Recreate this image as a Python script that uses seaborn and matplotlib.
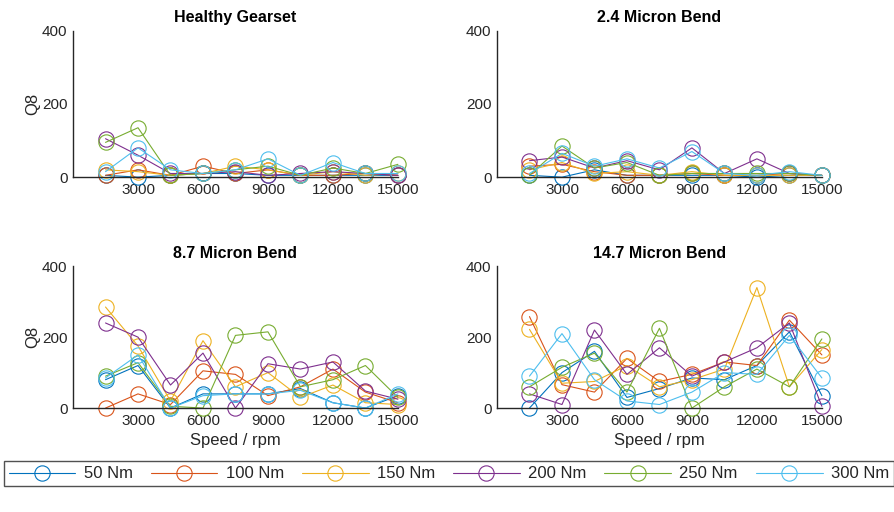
import numpy as np
import pandas as pd
import matplotlib
matplotlib.use("Agg")
import matplotlib.pyplot as plt
import seaborn as sns

speed = [1500, 3000, 4500, 6000, 7500, 9000, 10500, 12000, 13500, 15000]
torques = ["50 Nm", "100 Nm", "150 Nm", "200 Nm", "250 Nm", "300 Nm"]
conditions = ["Healthy Gearset", "2.4 Micron Bend", "8.7 Micron Bend", "14.7 Micron Bend"]

# Q8 per condition, one list per torque (order as in `torques`)
healthy = [
    [5, 0, 5, 10, 10, 5, 5, 5, 5, 5],
    [5, 20, 5, 30, 10, 20, 5, 5, 10, 5],
    [20, 15, 5, 10, 30, 20, 5, 15, 5, 10],
    [105, 60, 10, 10, 15, 5, 10, 15, 10, 5],
    [95, 135, 5, 10, 20, 30, 5, 25, 10, 35],
    [15, 80, 20, 10, 20, 50, 5, 40, 10, 10],
]
bend_2_4 = [
    [5, 0, 20, 5, 5, 5, 5, 0, 5, 5],
    [30, 35, 15, 5, 5, 10, 5, 5, 10, 5],
    [20, 40, 10, 15, 5, 15, 5, 5, 5, 5],
    [45, 55, 25, 45, 20, 80, 10, 50, 10, 5],
    [5, 85, 25, 40, 5, 10, 10, 10, 10, 5],
    [10, 65, 30, 50, 25, 70, 10, 5, 15, 5],
]
bend_8_7 = [
    [80, 120, 0, 40, 40, 40, 55, 15, 0, 35],
    [0, 40, 10, 105, 95, 35, 60, 110, 45, 15],
    [285, 175, 20, 190, 60, 100, 30, 65, 15, 10],
    [240, 200, 65, 155, 0, 125, 110, 130, 48, 25],
    [90, 128, 5, 0, 205, 215, 60, 80, 120, 30],
    [85, 150, 0, 35, 40, 40, 50, 15, 0, 40],
]
bend_14_7 = [
    [0, 100, 160, 30, 55, 85, 80, 120, 215, 35],
    [258, 66, 45, 140, 75, 95, 130, 120, 248, 150],
    [222, 70, 75, 120, 60, 80, 110, 340, 60, 165],
    [40, 10, 220, 95, 170, 90, 130, 170, 240, 5],
    [60, 115, 155, 45, 225, 0, 60, 110, 60, 195],
    [90, 210, 80, 20, 10, 45, 100, 95, 205, 85],
]
all_q8 = [healthy, bend_2_4, bend_8_7, bend_14_7]

palette = ["#0072BD", "#D95319", "#EDB120", "#7E2F8E", "#77AC30", "#4DBEEE"]
axis_color = "#262626"

sns.set_theme(style="white")
plt.rcParams["font.family"] = ["Liberation Sans", "DejaVu Sans"]

fig = plt.figure(figsize=(8.95, 5.12), dpi=100)

# axes rectangles [left, bottom, width, height] in figure fraction
rects = [
    [0.0816, 0.654, 0.363, 0.286],
    [0.5553, 0.654, 0.363, 0.286],
    [0.0816, 0.203, 0.363, 0.277],
    [0.5553, 0.203, 0.363, 0.277],
]

axes = []
for i, (cond, q8) in enumerate(zip(conditions, all_q8)):
    ax = fig.add_axes(rects[i])
    df = pd.DataFrame({
        "speed": np.tile(speed, len(torques)),
        "Q8": np.concatenate(q8),
        "torque": np.repeat(torques, len(speed)),
    })
    sns.lineplot(data=df, x="speed", y="Q8", hue="torque", hue_order=torques,
                 palette=palette, marker="o", markersize=11, linewidth=0.8,
                 markerfacecolor="none", markeredgewidth=0.8, sort=False,
                 estimator=None, legend=False, ax=ax)
    for line in ax.lines:
        line.set_markerfacecolor("none")
        line.set_markeredgecolor(line.get_color())
        line.set_clip_on(False)

    ax.set_xlim(0, 15000)
    ax.set_ylim(0, 400)
    ax.set_xticks([3000, 6000, 9000, 12000, 15000])
    ax.set_yticks([0, 200, 400])
    ax.tick_params(axis="both", length=0, labelsize=11, colors=axis_color, pad=4)
    for s in ["top", "right"]:
        ax.spines[s].set_visible(False)
    for s in ["left", "bottom"]:
        ax.spines[s].set_color(axis_color)
        ax.spines[s].set_linewidth(1.0)
    ax.set_title(cond, fontsize=11.5, fontweight="bold", color="black", pad=6)
    ax.set_xlabel("Speed / rpm" if i >= 2 else "", fontsize=12, color=axis_color)
    ax.set_ylabel("Q8" if i % 2 == 0 else "", fontsize=12, color=axis_color, labelpad=1)
    axes.append(ax)

handles = axes[0].lines[:len(torques)]
leg = fig.legend(handles, torques, loc="lower left", ncol=6,
                 bbox_to_anchor=(0.004, 0.05, 0.995, 0.05), mode="expand",
                 fontsize=12, handlelength=4.0, handletextpad=0.5,
                 frameon=True, fancybox=False, borderpad=0.3, borderaxespad=0)
leg.get_frame().set_edgecolor(axis_color)
leg.get_frame().set_linewidth(1.0)

fig.savefig("out.png", dpi=100)
